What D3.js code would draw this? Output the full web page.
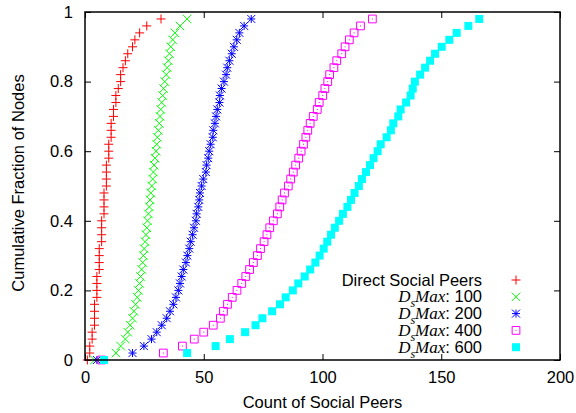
<!DOCTYPE html>
<html>
<head>
<meta charset="utf-8">
<script src="https://cdn.jsdelivr.net/npm/d3@7"></script>
<style>
  body { margin: 0; background: #fff; }
  svg { display: block; }
</style>
</head>
<body>
<svg id="chart" width="576" height="413"></svg>
<script>
// Cumulative fraction of nodes for each sample (y values shared by every series)
const fraction = [0, 0.02, 0.04, 0.06, 0.08, 0.10, 0.12, 0.14, 0.16, 0.18,
  0.20, 0.22, 0.24, 0.26, 0.28, 0.30, 0.32, 0.34, 0.36, 0.38,
  0.40, 0.42, 0.44, 0.46, 0.48, 0.50, 0.52, 0.54, 0.56, 0.58,
  0.60, 0.62, 0.64, 0.66, 0.68, 0.70, 0.72, 0.74, 0.76, 0.78,
  0.80, 0.82, 0.84, 0.86, 0.88, 0.90, 0.92, 0.94, 0.96, 0.98];

// Count of social peers per node at each fraction
const directPeers = [1, 2, 2, 3, 3, 4, 4, 4, 4, 5,
  5, 5, 5, 6, 6, 6, 6, 7, 7, 7,
  7, 8, 8, 8, 8, 9, 9, 9, 9, 10,
  10, 10, 11, 11, 11, 12, 12, 13, 13, 14,
  15, 15, 16, 17, 18, 20, 21, 23, 26, 32];

const dsMax100 = [4, 13, 15, 17, 18, 19, 20, 20.6, 21.3, 22,
  22.5, 23, 23.4, 23.9, 24.3, 24.6, 24.9, 25.3, 25.7, 26,
  26.3, 26.7, 27.1, 27.4, 27.7, 28.1, 28.5, 28.8, 29.1, 29.5,
  29.9, 30.2, 30.5, 30.9, 31.3, 31.6, 31.9, 32.3, 32.7, 33.1,
  33.6, 34.2, 34.6, 35.1, 35.6, 36.1, 36.9, 37.9, 40, 43];

const dsMax200 = [5, 20, 24.8, 28, 30.2, 32.3, 34.4, 35.8, 37.2, 38.3,
  39.3, 40, 40.7, 41.4, 42.5, 43.1, 43.9, 44.5, 45.3, 45.9,
  46.7, 47, 47.7, 48.1, 48.4, 49.1, 49.8, 50.9, 51.2, 51.9,
  52.3, 52.9, 53.8, 54, 54.7, 55.2, 55.7, 56.6, 56.8, 57.5,
  58.5, 59.4, 59.9, 60.8, 61.8, 62.7, 63.9, 65, 67, 70];

const dsMax400 = [7, 33, 41, 46, 50, 54, 57, 58.3, 60, 62,
  64, 66, 67.7, 69.3, 70.9, 72.6, 73.9, 75.4, 76.6, 77.8,
  79.3, 81, 82, 83, 84, 85.6, 86.6, 87.7, 88.7, 90,
  91, 92, 93, 93.8, 94.8, 96.1, 97.8, 98.6, 100.1, 101,
  102.2, 103, 104.8, 106, 108.1, 109.5, 111.3, 113.3, 116, 121];

const dsMax600 = [8, 43, 55, 61, 67.4, 71.8, 74.7, 78.8, 82.1, 84.5,
  87.5, 89.8, 92.5, 94.8, 97, 98.8, 100.5, 102, 103.6, 105.2,
  107, 108.6, 110.5, 112, 113.5, 115.3, 116.6, 118.3, 120, 121.5,
  123.2, 124.5, 127, 128.8, 129.8, 131.9, 132.9, 135.2, 137.1, 138,
  138.9, 141.1, 143.2, 145.3, 147.4, 150.2, 153.4, 156.5, 161.4, 166];

const seriesLabels = ["Direct Social Peers", "100", "200", "400", "600"];
const seriesColors = ["#ff0000", "#00ff00", "#0000ff", "#ff00ff", "#00ffff"];
const seriesValues = [directPeers, dsMax100, dsMax200, dsMax400, dsMax600];

const xTicks = [0, 50, 100, 150, 200];
const yTicks = [0, 0.2, 0.4, 0.6, 0.8, 1];
const yTickLabels = ["0", "0.2", "0.4", "0.6", "0.8", "1"];

// Point symbols in gnuplot style (stroked glyphs)
const symPlus = { draw(c, size) { const r = Math.sqrt(size) / 2;
  c.moveTo(-r, 0); c.lineTo(r, 0); c.moveTo(0, -r); c.lineTo(0, r); } };
const symCross = { draw(c, size) { const r = Math.sqrt(size) / 2;
  c.moveTo(-r, -r); c.lineTo(r, r); c.moveTo(-r, r); c.lineTo(r, -r); } };
const symStar = { draw(c, size) { const r = Math.sqrt(size) / 2;
  c.moveTo(-r, 0); c.lineTo(r, 0); c.moveTo(0, -r); c.lineTo(0, r);
  c.moveTo(-r, -r); c.lineTo(r, r); c.moveTo(-r, r); c.lineTo(r, -r); } };
const symBoxDot = { draw(c, size) { const r = Math.sqrt(size) / 2;
  c.rect(-r, -r, 2 * r, 2 * r); c.moveTo(-0.5, 0); c.lineTo(0.5, 0); } };
const symBoxFill = { draw(c, size) { const r = Math.sqrt(size) / 2;
  c.rect(-r, -r, 2 * r, 2 * r); } };

const markers = [
  { type: symPlus, size: 81, filled: false },
  { type: symCross, size: 72, filled: false },
  { type: symStar, size: 64, filled: false },
  { type: symBoxDot, size: 60, filled: false },
  { type: symBoxFill, size: 64, filled: true }
];

const svg = d3.select("#chart");
const plotLeft = 85, plotRight = 560, plotTop = 12, plotBottom = 360;

const x = d3.scaleLinear().domain([0, 200]).range([plotLeft, plotRight]);
const y = d3.scaleLinear().domain([0, 1]).range([plotBottom, plotTop]);

const sans = "'Liberation Sans', Arial, Helvetica, sans-serif";
const serif = "'Liberation Serif', 'Times New Roman', serif";
const fontSize = "16.5px";

// Axes with inward ticks on all four sides
const axisStyle = g => {
  g.select(".domain").remove();
  g.selectAll(".tick line").attr("stroke", "#000").attr("stroke-width", 1);
  g.selectAll(".tick text").attr("fill", "#000")
    .style("font-family", sans).style("font-size", fontSize);
};

svg.append("g").attr("transform", `translate(0,${plotBottom})`)
  .call(d3.axisBottom(x).tickValues(xTicks).tickSize(-6).tickPadding(11))
  .call(axisStyle);
svg.append("g").attr("transform", `translate(0,${plotTop})`)
  .call(d3.axisTop(x).tickValues(xTicks).tickSize(-6).tickFormat(""))
  .call(axisStyle);
svg.append("g").attr("transform", `translate(${plotLeft},0)`)
  .call(d3.axisLeft(y).tickValues(yTicks).tickSize(-6).tickPadding(12)
    .tickFormat((d, i) => yTickLabels[i]))
  .call(axisStyle);
svg.append("g").attr("transform", `translate(${plotRight},0)`)
  .call(d3.axisRight(y).tickValues(yTicks).tickSize(-6).tickFormat(""))
  .call(axisStyle);

// Series points
seriesValues.forEach((vals, si) => {
  const m = markers[si];
  const sym = d3.symbol().type(m.type).size(m.size);
  svg.append("g")
    .selectAll("path")
    .data(vals.map((v, i) => ({ v, f: fraction[i] })))
    .join("path")
    .attr("transform", d => `translate(${x(d.v)},${y(d.f)})`)
    .attr("d", sym)
    .attr("fill", m.filled ? seriesColors[si] : "none")
    .attr("stroke", m.filled ? "none" : seriesColors[si])
    .attr("stroke-width", 1);
});

// Plot frame
svg.append("rect")
  .attr("x", plotLeft).attr("y", plotTop)
  .attr("width", plotRight - plotLeft).attr("height", plotBottom - plotTop)
  .attr("fill", "none").attr("stroke", "#000").attr("stroke-width", 1.5);

// Axis titles
svg.append("text")
  .attr("x", (plotLeft + plotRight) / 2).attr("y", 408)
  .attr("text-anchor", "middle")
  .style("font-family", sans).style("font-size", fontSize)
  .text("Count of Social Peers");

svg.append("text")
  .attr("transform", "translate(24,183) rotate(-90)")
  .attr("text-anchor", "middle")
  .style("font-family", sans).style("font-size", fontSize)
  .text("Cumulative Fraction of Nodes");

// Legend
const legendTextX = 482, legendMarkX = 516;
const legendRowY = i => 280 + i * 16.8;

seriesLabels.forEach((label, i) => {
  const t = svg.append("text")
    .attr("x", legendTextX).attr("y", legendRowY(i) + 5.5)
    .attr("text-anchor", "end")
    .style("font-family", sans).style("font-size", fontSize);
  if (i === 0) {
    t.text(label);
  } else {
    t.append("tspan").style("font-family", serif).style("font-style", "italic")
      .style("font-size", "17px").text("D");
    t.append("tspan").style("font-family", serif).style("font-style", "italic")
      .style("font-size", "12px").attr("dy", 5).text("s");
    t.append("tspan").style("font-family", serif).style("font-style", "italic")
      .style("font-size", "17px").attr("dy", -5).text("Max");
    t.append("tspan").text(": " + label);
  }
  const m = markers[i];
  svg.append("path")
    .attr("transform", `translate(${legendMarkX},${legendRowY(i)})`)
    .attr("d", d3.symbol().type(m.type).size(m.size))
    .attr("fill", m.filled ? seriesColors[i] : "none")
    .attr("stroke", m.filled ? "none" : seriesColors[i])
    .attr("stroke-width", 1);
});
</script>
</body>
</html>
